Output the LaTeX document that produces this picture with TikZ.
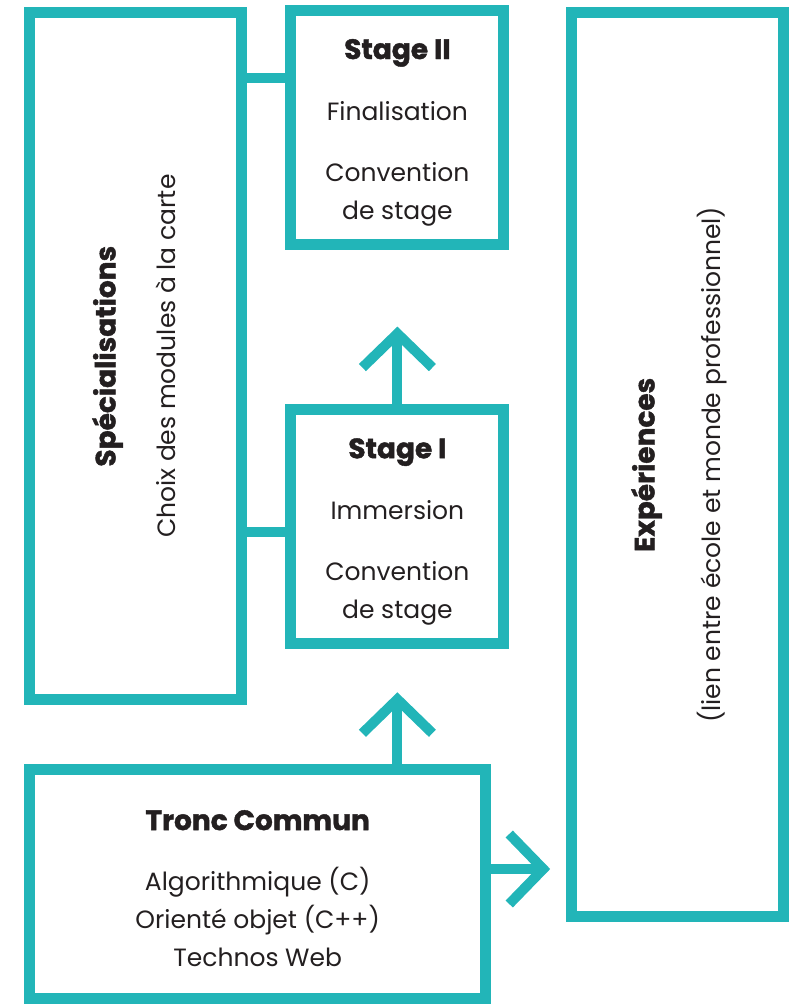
\documentclass[tikz,border=0pt]{standalone}
\usepackage{fontspec}
\setmainfont{Poppins}[BoldFeatures={FakeBold=1.5}]
\usetikzlibrary{arrows.meta}
\definecolor{stagecyan}{RGB}{34,181,184}
\definecolor{inkdark}{RGB}{35,31,32}
\newcommand{\boxhead}[1]{{\fontsize{28}{38}\selectfont\bfseries #1}}
\tikzstyle{colbox} = [rectangle, draw=stagecyan, line width=11pt, minimum width=212pt, inner sep=0pt, text=inkdark, align=center]
\tikzstyle{stagebox} = [colbox, minimum width=213pt, minimum height=234pt]
\tikzstyle{link} = [draw=stagecyan, line width=10.5pt]
\tikzstyle{flow} = [draw=stagecyan, line width=10pt, -{Straight Barb[length=34pt, width=70pt, sharp]}]

\begin{document}
\begin{tikzpicture}[x=1pt, y=1pt, node distance=261.7pt, font=\fontsize{25}{38}\selectfont]
\useasboundingbox (0,0) rectangle (794,-1004);

\node (spec) [colbox, minimum height=687pt] at (135.7,-356.2) {\rotatebox{90}{\begin{tabular}{@{}c@{}}\rule{0pt}{31pt}\boxhead{Spécialisations}\\[22pt]Choix des modules à la carte\end{tabular}}};
\node (stage2) [stagebox, right of=spec, yshift=228.6pt] {\rule{0pt}{30pt}\boxhead{Stage II}\\[23.7pt]Finalisation\\[22.7pt]Convention\\de stage};
\node (stage1) [stagebox, below of=stage2, yshift=-137.5pt] {\rule{0pt}{30pt}\boxhead{Stage I}\\[23.7pt]Immersion\\[22.7pt]Convention\\de stage};
\node (exp) [colbox, minimum height=904pt, right of=stage1, xshift=18.6pt, yshift=62pt] {\rotatebox{90}{\begin{tabular}{@{}c@{}}\rule{0pt}{31pt}\boxhead{Expériences}\\[28pt](lien entre école et monde professionnel)\end{tabular}}};
\node (tronc) [colbox, minimum width=456pt, minimum height=229pt, below of=spec, xshift=122pt, yshift=-266.1pt] {\rule{0pt}{29pt}\boxhead{Tronc Commun}\\[22.7pt]Algorithmique (C)\\Orienté objet (C++)\\Technos Web};

% liens vers les stages
\coordinate (s2link) at ([yshift=49.6pt]stage2.west);
\coordinate (s1link) at ([yshift=-5pt]stage1.west);
\draw[link] (s2link -| spec.east) -- (s2link);
\draw[link] (s1link -| spec.east) -- (s1link);

% fleches
\draw[flow, shorten >=76.5pt] (stage1.north) -- (stage2.south);
\draw[flow, shorten >=43pt] (stage1.south |- tronc.north) -- (stage1.south);
\coordinate (troncout) at ([yshift=15pt]tronc.east);
\draw[flow, shorten >=16pt] (troncout) -- (troncout -| exp.west);

\end{tikzpicture}
\end{document}
